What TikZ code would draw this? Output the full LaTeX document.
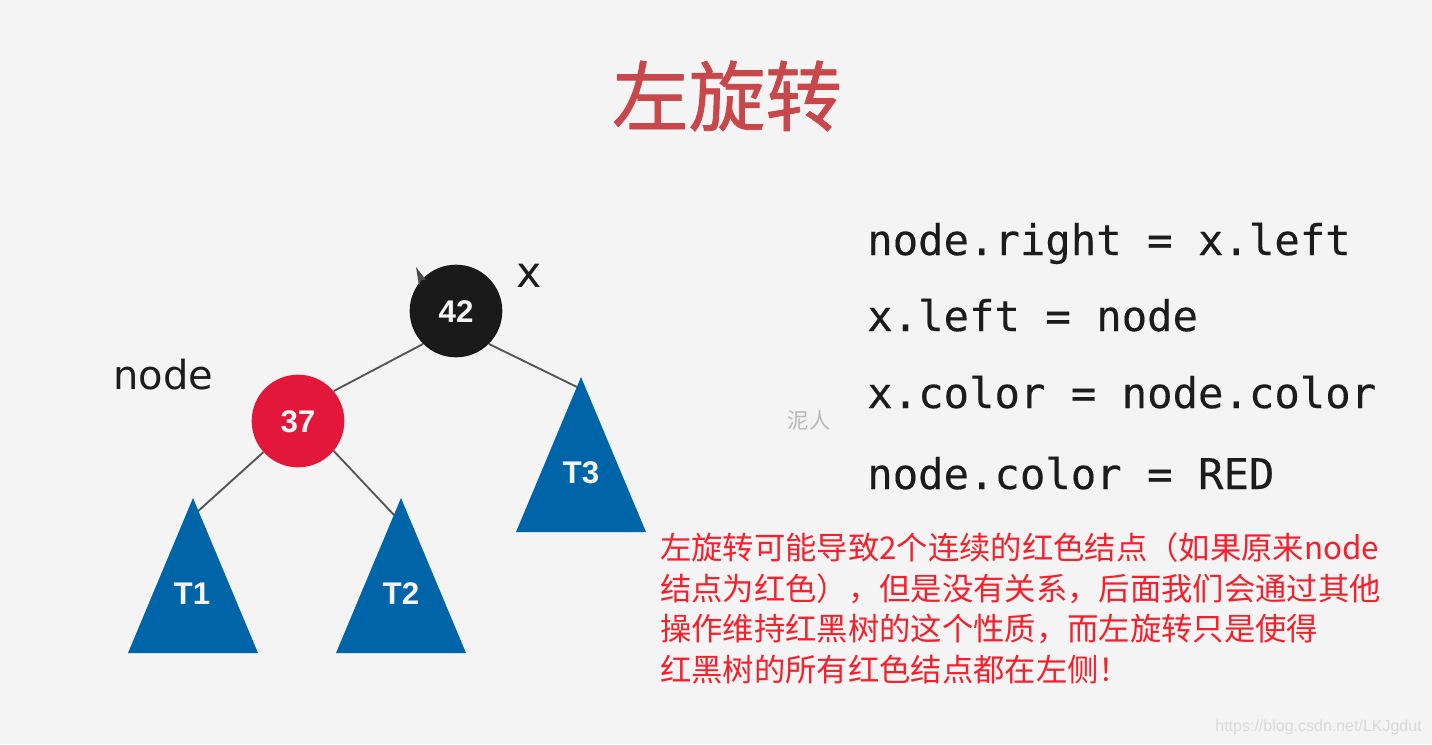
\documentclass[tikz,border=0pt]{standalone}
\usepackage{fontspec}
\setmainfont{Noto Sans CJK SC}
\newfontfamily\monof[FakeBold=0.3]{DejaVu Sans Mono}
\newfontfamily\sansf{DejaVu Sans}
\newfontfamily\helv{Liberation Sans}
\newfontfamily\cjk{Noto Sans CJK SC}
\newfontfamily\titlef[FakeBold=1]{Noto Sans CJK SC}
\definecolor{bgc}{HTML}{F4F4F4}
\definecolor{titlec}{HTML}{C8474B}
\definecolor{redn}{HTML}{E3173A}
\definecolor{blackn}{HTML}{1A1A1A}
\definecolor{bluet}{HTML}{0064A8}
\definecolor{edgec}{HTML}{555555}
\definecolor{codec}{HTML}{1C1C1C}
\definecolor{notec}{HTML}{F5202C}
\tikzset{
 px/.style={x=0.75pt,y=-0.75pt},
 treenode/.style={circle,minimum size=69.5pt,inner sep=0pt,fill=none},
 treelab/.style={text=bgc,font=\helv\bfseries\fontsize{23.5}{23.5}\selectfont,inner sep=0pt},
 tri/.style={fill=bluet,draw=none},
 edge/.style={draw=edgec,line width=1.4pt},
 code/.style={anchor=base west,inner sep=0pt,text=codec,font=\monof\fontsize{31.7}{32}\selectfont},
 lab/.style={anchor=base west,inner sep=0pt,text=codec,font=\sansf\fontsize{30}{30}\selectfont},
 note/.style={anchor=base west,inner sep=0pt,text=notec,font=\cjk\fontsize{23.5}{24}\selectfont},
}
\begin{document}
\begin{tikzpicture}[px]
\useasboundingbox (0,0) rectangle (1432,744);
\fill[bgc] (0,0) rectangle (1432,744);
\node[inner sep=0pt,text=titlec,font=\titlef\fontsize{57.5}{58}\selectfont] (title) at (727,96) {左旋转};
\coordinate (t1a) at (196,513); \coordinate (t2a) at (394,515); \coordinate (t3a) at (577,387);
\node[treenode,fill=blackn] (n42) at (456,311) {};
\node[treenode,fill=redn] (n37) at (298,421) {};
\node[treelab] (l42) at (456,312) {42};
\node[treelab] (l37) at (298,422) {37};
\draw[edge] (n42.225) -- (n37.40);
\draw[edge] (n42.-45) -- (t3a);
\draw[edge] (n37.222) -- (t1a);
\draw[edge] (n37.-40) -- (t2a);
\fill[tri] (193,498) -- (258,653) -- (128,653) -- cycle;
\fill[tri] (401,498) -- (466,653) -- (336,653) -- cycle;
\fill[tri] (581,377) -- (646,532) -- (516,532) -- cycle;
\fill[black!70] (416,267) -- (426,280) -- (421,280) -- (419,286) -- cycle;
\node[treelab] (t1) at (192,594) {T1};
\node[treelab] (t2) at (401,594) {T2};
\node[treelab] (t3) at (581,473) {T3};
\node[lab,font=\sansf\fontsize{32}{32}\selectfont] (x) at (516,287) {x};
\node[lab] (nodel) at (113,389) {node};
\node[code] (c1) at (867,255) {node.right = x.left};
\node[code] (c2) at (867,331) {x.left = node};
\node[code] (c3) at (867,408) {x.color = node.color};
\node[code] (c4) at (867,489) {node.color = RED};
\node[inner sep=0pt,text=black!28,font=\cjk\fontsize{16}{16}\selectfont] (wm) at (809,420) {泥人};
\node[note] (l1) at (660,559) {左旋转可能导致2个连续的红色结点（如果原来node};
\node[note] (l2) at (660,600) {结点为红色），但是没有关系，后面我们会通过其他};
\node[note] (l3) at (660,640) {操作维持红黑树的这个性质，而左旋转只是使得};
\node[note] (l4) at (660,681) {红黑树的所有红色结点都在左侧！};
\node[anchor=base east,inner sep=0pt,text=black!15,font=\helv\fontsize{12}{12}\selectfont] (url) at (1422,731) {https://blog.csdn.net/LKJgdut};
\end{tikzpicture}
\end{document}
